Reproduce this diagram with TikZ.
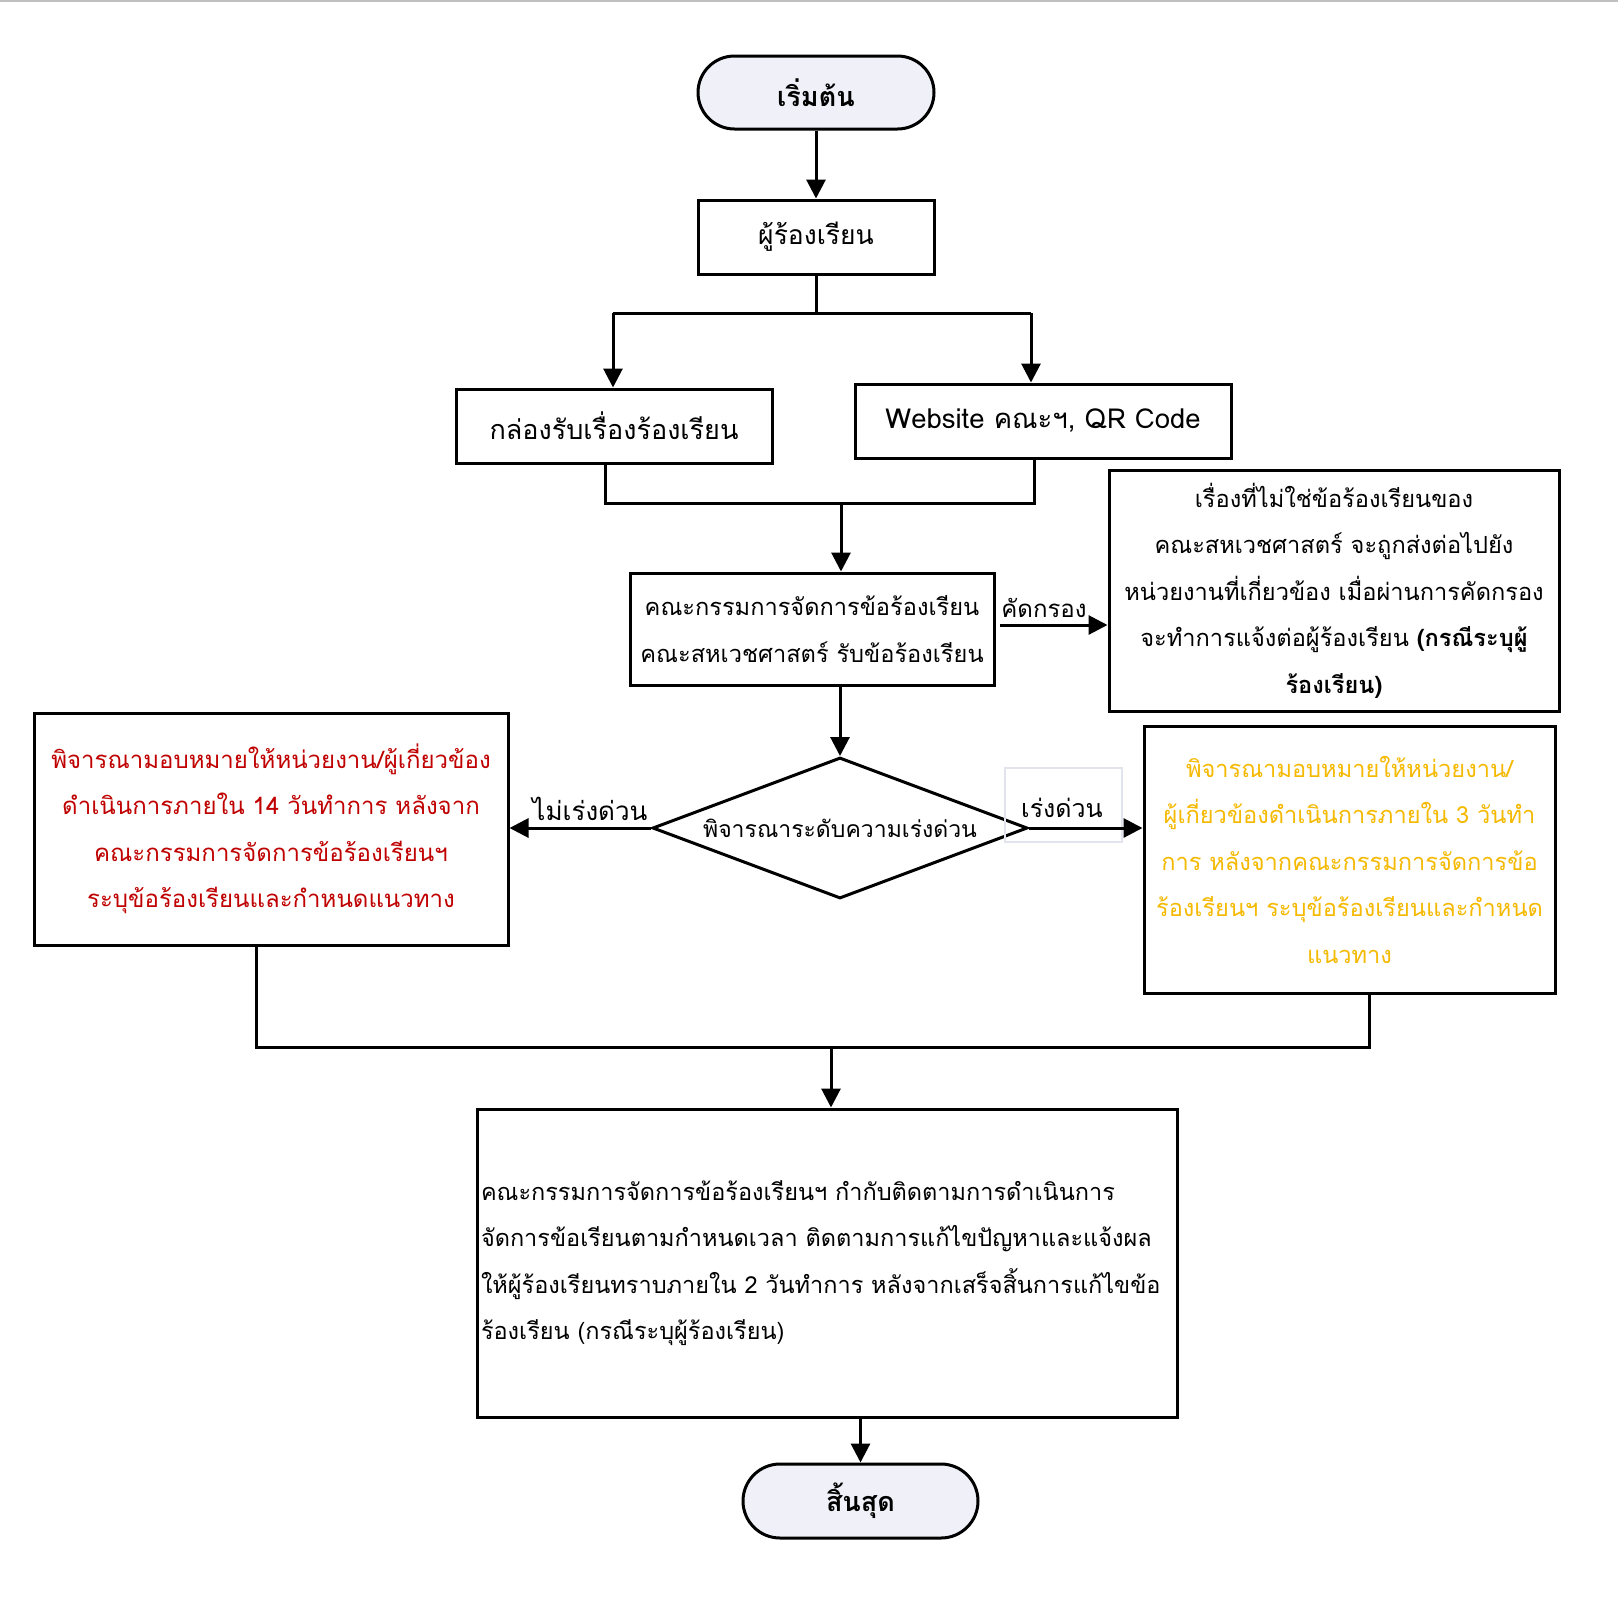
\documentclass[tikz,border=0pt]{standalone}
\usepackage{fontspec}
\setmainfont[Script=Thai]{Loma}
\usetikzlibrary{arrows.meta,shapes.geometric,shapes.misc}
\definecolor{termfill}{RGB}{240,241,248}
\definecolor{thred}{RGB}{192,0,0}
\definecolor{thgold}{RGB}{245,185,0}
\definecolor{lblframe}{RGB}{225,228,236}
\tikzset{
  ln/.style={line width=3pt},
  arr/.style={line width=3pt,-{Triangle[length=19pt,width=19pt]}},
  box/.style={draw,line width=3pt,rectangle,inner xsep=6pt,inner ysep=0pt,align=center,
    font=\fontsize{23.6}{46.5}\selectfont},
  term/.style={draw,line width=3pt,rounded rectangle,fill=termfill,inner sep=0pt,
    font=\bfseries\fontsize{27}{32}\selectfont},
  lbl/.style={inner sep=0pt,font=\fontsize{24}{30}\selectfont}
}
\begin{document}
\begin{tikzpicture}[x=1pt,y=-1pt]
\useasboundingbox (0,0) rectangle (1618,1618);
\fill[white] (0,0) rectangle (1618,1618);
\draw[line width=2pt,gray!50] (0,1) -- (1618,1);
% nodes
\node[term,minimum width=236pt,minimum height=73pt] (start) at (816,92.5) {เริ่มต้น};
\node[box,minimum width=236pt,minimum height=74pt,text width=224pt,font=\fontsize{26.5}{30}\selectfont] (user) at (816,237) {ผู้ร้องเรียน};
\node[box,minimum width=316pt,minimum height=74pt,text width=304pt,font=\fontsize{27}{30}\selectfont] (box1) at (614,426) {กล่องรับเรื่องร้องเรียน};
\node[box,minimum width=376pt,minimum height=74pt,text width=364pt,font=\fontsize{27.5}{30}\selectfont] (box2) at (1043,421) {Website คณะฯ, QR Code};
\node[box,minimum width=364pt,minimum height=112pt,text width=352pt] (comm) at (812,629)
  {คณะกรรมการจัดการข้อร้องเรียน\\คณะสหเวชศาสตร์ รับข้อร้องเรียน};
\node[box,minimum width=450pt,minimum height=241pt,text width=438pt] (info) at (1334,590.5)
  {เรื่องที่ไม่ใช่ข้อร้องเรียนของ\\คณะสหเวชศาสตร์ จะถูกส่งต่อไปยัง\\หน่วยงานที่เกี่ยวข้อง เมื่อผ่านการคัดกรอง\\จะทำการแจ้งต่อผู้ร้องเรียน \textbf{(กรณีระบุผู้}\\\textbf{ร้องเรียน)}};
\node[draw,line width=3pt,diamond,aspect=2.66,minimum width=375pt,minimum height=141pt,inner sep=0pt,
  font=\fontsize{23}{30}\selectfont] (dia) at (840,828) {พิจารณาระดับความเร่งด่วน};
\node[box,minimum width=474pt,minimum height=232pt,text width=462pt,text=thred,font=\fontsize{24}{46.5}\selectfont] (red) at (271,829)
  {พิจารณามอบหมายให้หน่วยงาน/ผู้เกี่ยวข้อง\\ดำเนินการภายใน 14 วันทำการ หลังจาก\\คณะกรรมการจัดการข้อร้องเรียนฯ\\ระบุข้อร้องเรียนและกำหนดแนวทาง};
\node[box,minimum width=411pt,minimum height=267pt,text width=399pt,text=thgold] (yellow) at (1349.5,859.5)
  {พิจารณามอบหมายให้หน่วยงาน/\\ผู้เกี่ยวข้องดำเนินการภายใน 3 วันทำ\\การ หลังจากคณะกรรมการจัดการข้อ\\ร้องเรียนฯ ระบุข้อร้องเรียนและกำหนด\\แนวทาง};
\node[box,minimum width=700pt,minimum height=308pt,inner xsep=4pt,text width=692pt,align=left,font=\fontsize{23.5}{46.5}\selectfont] (bottom) at (827,1263)
  {คณะกรรมการจัดการข้อร้องเรียนฯ กำกับติดตามการดำเนินการ\\จัดการข้อเรียนตามกำหนดเวลา ติดตามการแก้ไขปัญหาและแจ้งผล\\ให้ผู้ร้องเรียนทราบภายใน 2 วันทำการ หลังจากเสร็จสิ้นการแก้ไขข้อ\\ร้องเรียน (กรณีระบุผู้ร้องเรียน)};
\node[term,minimum width=235pt,minimum height=74pt] (end) at (860.5,1501) {สิ้นสุด};
% labels
\node[lbl] (lk) at (1044,608) {คัดกรอง};
\node[lbl,font=\fontsize{26}{30}\selectfont] (lno) at (590,809) {ไม่เร่งด่วน};
\node[draw=lblframe,line width=1.2pt,minimum width=117pt,minimum height=74pt,inner sep=0pt] (lyes) at (1063.5,805) {};
\node[lbl,font=\fontsize{25}{30}\selectfont] (lyest) at (1062,808) {เร่งด่วน};
% coordinates
\coordinate (sL) at (613,313);
\coordinate (sR) at (1031,313);
\coordinate (mL) at (605,503);
\coordinate (mR) at (1034,503);
\coordinate (mC) at (841,503);
\coordinate (kS) at (1000,625);
\coordinate (bL) at (256,1047);
\coordinate (bR) at (1369,1047);
\coordinate (bC) at (831,1047);
% connectors
\draw[arr] (start) -- (user);
\draw[ln] (user.south) -- (user.south |- sL);
\draw[ln] (sL) -- (sR);
\draw[arr] (sL) -- (sL |- box1.north);
\draw[arr] (sR) -- (sR |- box2.north);
\draw[ln] (mL |- box1.south) -- (mL) -- (mR) -- (mR |- box2.south);
\draw[arr] (mC) -- (mC |- comm.north);
\draw[arr] (comm.south -| dia.north) -- (dia.north);
\draw[arr] (kS) -- (kS -| info.west);
\draw[arr] (dia.west) -- (red.east |- dia.west);
\draw[arr] (dia.east) -- (yellow.west |- dia.east);
\draw[ln] (bL |- red.south) -- (bL) -- (bR) -- (bR |- yellow.south);
\draw[arr] (bC) -- (bC |- bottom.north);
\draw[arr] (bottom.south -| end.north) -- (end.north);
\end{tikzpicture}
\end{document}
